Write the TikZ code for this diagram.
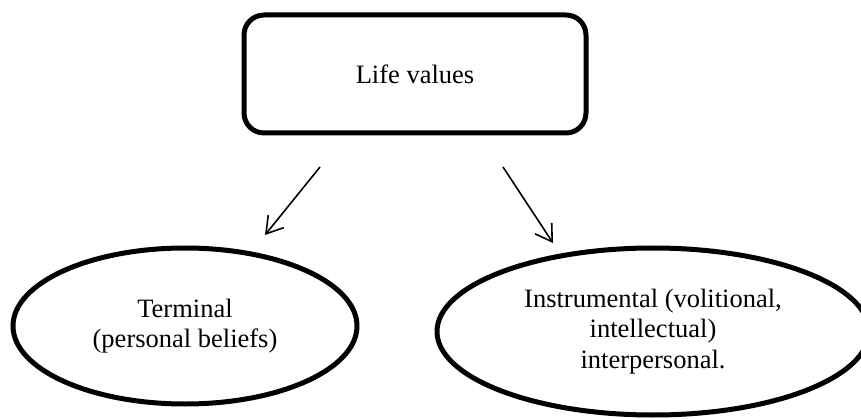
\documentclass[tikz,border=0pt]{standalone}
\usepackage{fontspec}
\setmainfont{Liberation Serif}
\usetikzlibrary{shapes.geometric,arrows.meta}

\tikzset{
    txt/.style={font=\fontsize{26.5pt}{30.5pt}\selectfont, align=center, inner sep=0pt},
    valbox/.style={txt, draw, line width=5pt, rounded corners=20pt, minimum width=342pt, minimum height=118pt},
    valell/.style={txt, draw, ellipse, line width=5pt},
    arr/.style={-{Straight Barb[length=16pt,width=20pt,line width=1.6pt]}, line width=1.6pt}
}

\begin{document}
\begin{tikzpicture}[x=1pt,y=-1pt]
        \useasboundingbox (0,0) rectangle (861,419);
        \node[valbox] (values) at (415,74) {Life values};
        \node[valell, minimum width=344pt, minimum height=156pt] (terminal) at (185,326) {Terminal\\(personal beliefs)};
        \node[valell, minimum width=432pt, minimum height=167pt] (instr) at (653,331.5) {Instrumental (volitional,\\intellectual)\\interpersonal.};
        \coordinate (ls) at (320,167);
        \coordinate (le) at (265,235);
        \coordinate (rs) at (503,167);
        \coordinate (re) at (553,243);
        \draw[arr] (ls) -- (le);
        \draw[arr] (rs) -- (re);
    \end{tikzpicture}
\end{document}
